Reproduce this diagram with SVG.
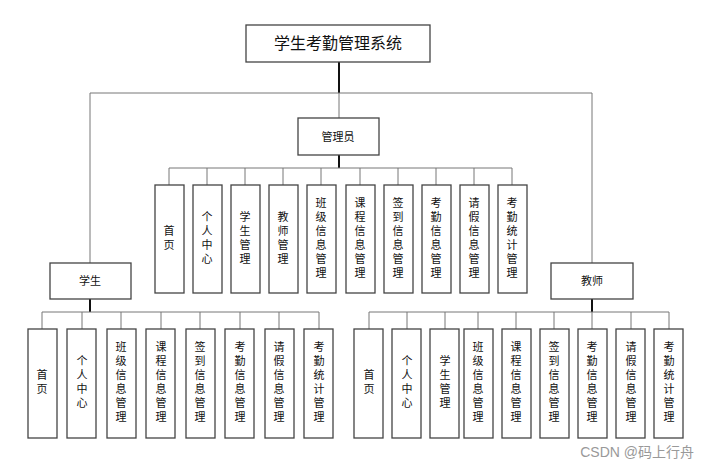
<svg xmlns="http://www.w3.org/2000/svg" width="709" height="469" viewBox="0 0 709 469">
<style>
.b{fill:#fff;stroke:#444;stroke-width:1.3}
.t{font-family:"Noto Sans CJK SC",sans-serif;font-size:11px;fill:#111;text-anchor:middle}
.v{font-family:"Noto Sans CJK SC",sans-serif;font-size:11px;fill:#111;writing-mode:vertical-rl;text-anchor:middle;letter-spacing:3px}
.c{fill:none;stroke:#777;stroke-width:1}
.k{fill:none;stroke:#111;stroke-width:2}
</style>
<rect width="709" height="469" fill="#fff"/>
<g id="connectors">
<path class="k" d="M339 62V93"/>
<path class="c" d="M90 263V93H592V263M339 93V118"/>
<path class="k" d="M339 155V168M90 299V312M592 299V312"/>
<path class="c" d="M169 185V168H512V185M207 168V185M245 168V185M283 168V185M321 168V185M360 168V185M398 168V185M436 168V185M474 168V185"/>
<path class="c" d="M42 329V312H319V329M82 312V329M121 312V329M161 312V329M200 312V329M240 312V329M279 312V329"/>
<path class="c" d="M369 329V312H669V329M407 312V329M445 312V329M478 312V329M516 312V329M554 312V329M592 312V329M631 312V329"/>
</g>
<g id="root"><rect class="b" x="246" y="25" width="184" height="37"/><text class="t" x="338" y="49" style="font-size:16px">学生考勤管理系统</text></g>
<g id="admin"><rect class="b" x="298" y="118" width="81" height="37"/><text class="t" x="338" y="141">管理员</text></g>
<g id="student"><rect class="b" x="50" y="263" width="81" height="36"/><text class="t" x="90" y="285">学生</text></g>
<g id="teacher"><rect class="b" x="551" y="263" width="82" height="36"/><text class="t" x="592" y="285">教师</text></g>
<g id="admin-items">
<g id="a1"><rect class="b" x="155" y="185" width="29" height="108"/><text class="v" x="169" y="239">首页</text></g>
<g id="a2"><rect class="b" x="193" y="185" width="29" height="108"/><text class="v" x="207" y="239">个人中心</text></g>
<g id="a3"><rect class="b" x="231" y="185" width="29" height="108"/><text class="v" x="245" y="239">学生管理</text></g>
<g id="a4"><rect class="b" x="269" y="185" width="29" height="108"/><text class="v" x="283" y="239">教师管理</text></g>
<g id="a5"><rect class="b" x="307" y="185" width="29" height="108"/><text class="v" x="321" y="239">班级信息管理</text></g>
<g id="a6"><rect class="b" x="346" y="185" width="29" height="108"/><text class="v" x="360" y="239">课程信息管理</text></g>
<g id="a7"><rect class="b" x="384" y="185" width="29" height="108"/><text class="v" x="398" y="239">签到信息管理</text></g>
<g id="a8"><rect class="b" x="422" y="185" width="29" height="108"/><text class="v" x="436" y="239">考勤信息管理</text></g>
<g id="a9"><rect class="b" x="460" y="185" width="29" height="108"/><text class="v" x="474" y="239">请假信息管理</text></g>
<g id="a10"><rect class="b" x="498" y="185" width="29" height="108"/><text class="v" x="512" y="239">考勤统计管理</text></g>
</g>
<g id="student-items">
<g id="s1"><rect class="b" x="28" y="329" width="29" height="109"/><text class="v" x="42" y="383">首页</text></g>
<g id="s2"><rect class="b" x="67" y="329" width="29" height="109"/><text class="v" x="82" y="383">个人中心</text></g>
<g id="s3"><rect class="b" x="107" y="329" width="29" height="109"/><text class="v" x="121" y="383">班级信息管理</text></g>
<g id="s4"><rect class="b" x="146" y="329" width="29" height="109"/><text class="v" x="161" y="383">课程信息管理</text></g>
<g id="s5"><rect class="b" x="186" y="329" width="29" height="109"/><text class="v" x="200" y="383">签到信息管理</text></g>
<g id="s6"><rect class="b" x="225" y="329" width="29" height="109"/><text class="v" x="240" y="383">考勤信息管理</text></g>
<g id="s7"><rect class="b" x="265" y="329" width="29" height="109"/><text class="v" x="279" y="383">请假信息管理</text></g>
<g id="s8"><rect class="b" x="304" y="329" width="29" height="109"/><text class="v" x="319" y="383">考勤统计管理</text></g>
</g>
<g id="teacher-items">
<g id="t1"><rect class="b" x="354" y="329" width="29" height="109"/><text class="v" x="369" y="383">首页</text></g>
<g id="t2"><rect class="b" x="392" y="329" width="29" height="109"/><text class="v" x="407" y="383">个人中心</text></g>
<g id="t3"><rect class="b" x="430" y="329" width="29" height="109"/><text class="v" x="445" y="383">学生管理</text></g>
<g id="t4"><rect class="b" x="464" y="329" width="29" height="109"/><text class="v" x="478" y="383">班级信息管理</text></g>
<g id="t5"><rect class="b" x="502" y="329" width="29" height="109"/><text class="v" x="516" y="383">课程信息管理</text></g>
<g id="t6"><rect class="b" x="540" y="329" width="29" height="109"/><text class="v" x="554" y="383">签到信息管理</text></g>
<g id="t7"><rect class="b" x="578" y="329" width="29" height="109"/><text class="v" x="592" y="383">考勤信息管理</text></g>
<g id="t8"><rect class="b" x="616" y="329" width="29" height="109"/><text class="v" x="631" y="383">请假信息管理</text></g>
<g id="t9"><rect class="b" x="654" y="329" width="29" height="109"/><text class="v" x="669" y="383">考勤统计管理</text></g>
</g>
<text x="694" y="457" style="font-family:'Liberation Sans','Noto Sans CJK SC',sans-serif;font-size:14px;fill:#999;text-anchor:end">CSDN @码上行舟</text>
</svg>
